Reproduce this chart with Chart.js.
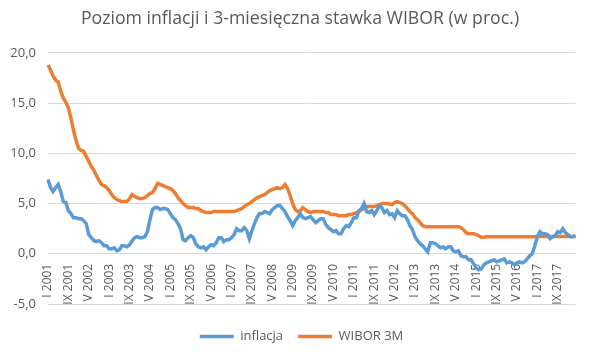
<!DOCTYPE html>
<html>
<head>
<meta charset="utf-8">
<script src="https://cdn.jsdelivr.net/npm/chart.js@4/dist/chart.umd.min.js"></script>
<style>
html,body{margin:0;padding:0;background:#fff;}
#wrap{width:600px;height:355px;position:relative;}
</style>
</head>
<body>
<div id="wrap"><canvas id="c" width="600" height="355"></canvas></div>
<script>
const chartTitle = 'Poziom inflacji i 3-miesięczna stawka WIBOR (w proc.)';
const months = ['I','II','III','IV','V','VI','VII','VIII','IX','X','XI','XII'];
const firstYear = 2001;
const tickLabels = ['I 2001','IX 2001','V 2002','I 2003','IX 2003','V 2004','I 2005','IX 2005','V 2006','I 2007','IX 2007','V 2008','I 2009','IX 2009','V 2010','I 2011','IX 2011','V 2012','I 2013','IX 2013','V 2014','I 2015','IX 2015','V 2016','I 2017','IX 2017'];
const yTicks = [-5, 0, 5, 10, 15, 20];

const inflacja = [
  7.4, 6.6, 6.2, 6.6, 6.9, 6.2, 5.2, 5.1, 4.3, 4.0, 3.6, 3.6,
  3.5, 3.5, 3.3, 3.0, 1.9, 1.6, 1.3, 1.2, 1.3, 1.1, 0.8, 0.8,
  0.5, 0.5, 0.6, 0.3, 0.4, 0.8, 0.8, 0.7, 0.9, 1.3, 1.6, 1.7,
  1.6, 1.6, 1.7, 2.2, 3.4, 4.4, 4.6, 4.6, 4.4, 4.5, 4.5, 4.4,
  4.0, 3.6, 3.4, 3.0, 2.5, 1.4, 1.3, 1.6, 1.8, 1.6, 1.0, 0.7,
  0.6, 0.7, 0.4, 0.7, 0.9, 0.8, 1.1, 1.6, 1.6, 1.2, 1.4, 1.4,
  1.6, 1.9, 2.5, 2.3, 2.3, 2.6, 2.3, 1.5, 2.3, 3.0, 3.6, 4.0,
  4.0, 4.2, 4.1, 4.0, 4.4, 4.6, 4.8, 4.8, 4.5, 4.2, 3.7, 3.3,
  2.8, 3.3, 3.6, 4.0, 3.6, 3.5, 3.6, 3.7, 3.4, 3.1, 3.3, 3.5,
  3.5, 2.9, 2.6, 2.4, 2.2, 2.3, 2.0, 2.0, 2.5, 2.8, 2.7, 3.1,
  3.6, 3.6, 4.3, 4.5, 5.0, 4.2, 4.1, 4.3, 3.9, 4.3, 4.8, 4.6,
  4.1, 4.3, 3.9, 4.0, 3.6, 4.3, 4.0, 3.8, 3.8, 3.4, 2.8, 2.4,
  1.7, 1.3, 1.0, 0.8, 0.5, 0.2, 1.1, 1.1, 1.0, 0.8, 0.6, 0.7,
  0.5, 0.7, 0.7, 0.3, 0.2, 0.3, -0.2, -0.3, -0.3, -0.6, -0.6, -1.0,
  -1.4, -1.6, -1.5, -1.1, -0.9, -0.8, -0.7, -0.6, -0.8, -0.7, -0.6, -0.5,
  -0.9, -0.8, -0.9, -1.1, -0.9, -0.8, -0.9, -0.8, -0.5, -0.2, 0.0, 0.8,
  1.7, 2.2, 2.0, 2.0, 1.9, 1.5, 1.7, 1.8, 2.2, 2.1, 2.5, 2.1,
  1.9, 1.7, 1.7, 1.8
];

const wibor3m = [
  18.8, 18.3, 17.7, 17.3, 17.1, 16.2, 15.5, 15.1, 14.5, 13.5, 12.3, 11.3,
  10.5, 10.3, 10.2, 9.7, 9.2, 8.7, 8.3, 7.8, 7.3, 6.9, 6.8, 6.6,
  6.3, 5.9, 5.6, 5.4, 5.3, 5.2, 5.2, 5.2, 5.5, 5.9, 5.7, 5.6,
  5.5, 5.5, 5.6, 5.8, 6.0, 6.1, 6.5, 7.0, 6.9, 6.8, 6.7, 6.6,
  6.5, 6.3, 6.0, 5.6, 5.3, 5.0, 4.8, 4.6, 4.6, 4.6, 4.5, 4.5,
  4.3, 4.2, 4.1, 4.1, 4.1, 4.2, 4.2, 4.2, 4.2, 4.2, 4.2, 4.2,
  4.2, 4.2, 4.3, 4.4, 4.5, 4.7, 4.9, 5.0, 5.2, 5.4, 5.6, 5.7,
  5.8, 5.9, 6.1, 6.3, 6.4, 6.5, 6.6, 6.5, 6.6, 6.9, 6.5, 5.8,
  5.0, 4.4, 4.2, 4.3, 4.6, 4.4, 4.2, 4.1, 4.2, 4.2, 4.2, 4.2,
  4.2, 4.1, 4.1, 3.9, 3.9, 3.9, 3.8, 3.8, 3.8, 3.8, 3.9, 3.9,
  4.0, 4.1, 4.2, 4.4, 4.5, 4.7, 4.7, 4.7, 4.7, 4.8, 4.9, 5.0,
  5.0, 5.0, 4.95, 4.9, 5.1, 5.2, 5.1, 5.0, 4.8, 4.5, 4.2, 4.0,
  3.6, 3.4, 3.1, 2.8, 2.7, 2.7, 2.7, 2.7, 2.7, 2.7, 2.7, 2.7,
  2.7, 2.7, 2.7, 2.7, 2.7, 2.7, 2.6, 2.4, 2.1, 2.0, 2.0, 2.0,
  1.9, 1.8, 1.65, 1.65, 1.7, 1.7, 1.7, 1.7, 1.7, 1.7, 1.7, 1.7,
  1.7, 1.7, 1.7, 1.7, 1.7, 1.7, 1.7, 1.7, 1.7, 1.7, 1.7, 1.7,
  1.73, 1.73, 1.73, 1.73, 1.73, 1.73, 1.73, 1.73, 1.73, 1.73, 1.73, 1.73,
  1.72, 1.72, 1.72, 1.72
];

const categories = inflacja.map((_, i) => months[i % 12] + ' ' + (firstYear + Math.floor(i / 12)));

const textColor = '#595959';
const gridColor = '#D9D9D9';
const fontFamily = "'Open Sans', 'Noto Sans', sans-serif";

const shiftBoxes = {
  id: 'shiftBoxes',
  afterLayout(chart) {
    if (chart.legend) { chart.legend.left = 16; }
    if (chart.titleBlock) { chart.titleBlock.left = 13; }
  }
};

new Chart(document.getElementById('c'), {
  type: 'line',
  data: {
    labels: categories,
    datasets: [
      { label: 'inflacja', data: inflacja, borderColor: '#5B9BD5', backgroundColor: '#5B9BD5', borderWidth: 3.5, pointRadius: 0, tension: 0, xAxisID: 'x', yAxisID: 'y' },
      { label: 'WIBOR 3M', data: wibor3m, borderColor: '#ED7D31', backgroundColor: '#ED7D31', borderWidth: 3.5, pointRadius: 0, tension: 0, xAxisID: 'x', yAxisID: 'y' }
    ]
  },
  plugins: [shiftBoxes],
  options: {
    responsive: false,
    animation: false,
    devicePixelRatio: 1,
    layout: { padding: { left: 0, right: 13, top: 0, bottom: 2 } },
    plugins: {
      title: {
        display: true, text: chartTitle, color: textColor,
        font: { family: fontFamily, size: 17.7, weight: 'normal' },
        padding: { top: 8, bottom: 23.7 }
      },
      legend: {
        display: true, position: 'bottom',
        labels: {
          color: textColor, font: { family: fontFamily, size: 13 },
          usePointStyle: true, pointStyle: 'line', pointStyleWidth: 34, padding: 15
        }
      },
      tooltip: { enabled: false }
    },
    scales: {
      x: {
        type: 'category',
        position: { y: 0 },
        offset: false,
        grid: { display: false, drawTicks: false },
        border: { display: true, color: gridColor, width: 1 },
        ticks: {
          autoSkip: false, maxRotation: 90, minRotation: 90, padding: 10,
          color: textColor, font: { family: fontFamily, size: 12 },
          callback: function(v, i) { const l = categories[i]; return tickLabels.includes(l) ? l : ''; }
        }
      },
      xb: {
        type: 'linear', position: 'bottom', display: true,
        grid: { display: false, drawTicks: false }, border: { display: false },
        ticks: { display: false },
        afterFit: s => { s.height = 11; }
      },
      y: {
        min: -5, max: 20,
        afterFit: s => { s.width = 48; },
        afterBuildTicks: s => { s.ticks = yTicks.map(v => ({ value: v })); },
        grid: { color: gridColor, lineWidth: 1, drawTicks: false },
        border: { display: false },
        ticks: {
          padding: 12, color: textColor, font: { family: fontFamily, size: 13 },
          callback: v => v.toFixed(1).replace('.', ',')
        }
      }
    }
  }
});
</script>
</body>
</html>
